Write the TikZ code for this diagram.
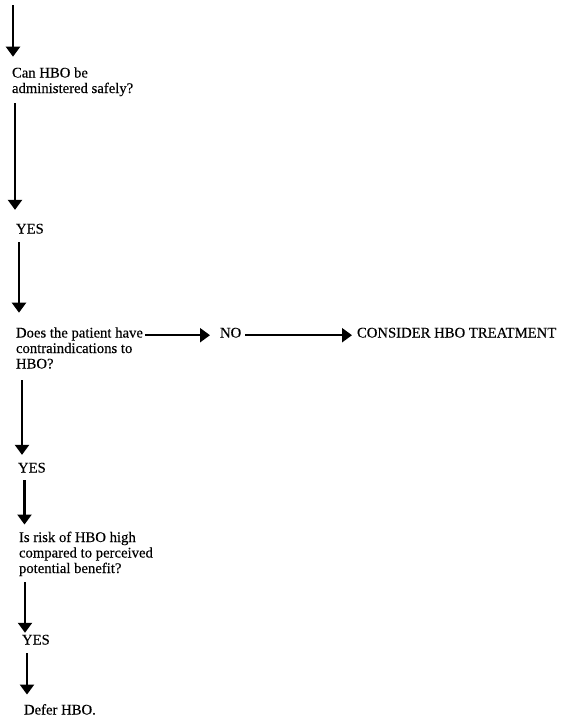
\documentclass[tikz,border=0pt]{standalone}
\usepackage{fontspec}
\setmainfont{Liberation Serif}[FakeBold=0.3]
\usetikzlibrary{arrows.meta}
\begin{document}
\begin{tikzpicture}[x=1pt,y=-1pt,
    txt/.style={anchor=base west, inner sep=0pt, outer sep=0pt, align=left, font=\fontsize{14.7}{15.5}\selectfont},
    flow/.style={line width=2.2pt, -{Triangle[length=10pt,width=14pt]}}]
  \useasboundingbox (0,0) rectangle (572,718);
  \coordinate (top) at (13,5);
  \node[txt] (can) at (12,93){Can HBO be\\administered safely?};
  \draw[flow](top) -- ([xshift=1pt,yshift=10.6pt]can.north west);
  \node[txt] (yes1) at (16,233.5){YES};
  \draw[flow]([xshift=3pt,yshift=-6.9pt]can.south west) -- ([xshift=-1pt,yshift=13.9pt]yes1.north west);
  \node[txt] (contra) at (16,368.5){Does the patient have\\contraindications to\\HBO?};
  \draw[flow]([xshift=3pt,yshift=-8.5pt]yes1.south west) -- ([xshift=3pt,yshift=14.6pt]contra.north west);
  \node[txt] (no) at (220,337.5){NO};
  \node[txt] (consider) at (357,337.5){CONSIDER HBO TREATMENT};
  \draw[flow, shorten <=2pt, shorten >=10pt](contra.east |- no.mid) -- (no.mid west);
  \draw[flow, shorten <=4pt, shorten >=5pt](no.mid east) -- (consider.mid west);
  \node[txt] (yes2) at (18,472.5){YES};
  \draw[flow]([xshift=6pt,yshift=-11.5pt]contra.south west) -- ([xshift=4pt,yshift=7.9pt]yes2.north west);
  \node[txt] (risk) at (19,573){Is risk of HBO high\\compared to perceived\\potential benefit?};
  \draw[flow]([xshift=6.5pt,yshift=-7.5pt]yes2.south west) -- ([xshift=5.5pt,yshift=7.1pt]risk.north west);
  \node[txt] (yes3) at (22,644.5){YES};
  \draw[flow]([xshift=6pt,yshift=-5.9pt]risk.south west) -- ([xshift=3pt,yshift=2pt]yes3.north west);
  \node[txt] (defer) at (24,714.5){Defer HBO.};
  \draw[flow]([xshift=5pt,yshift=-8.5pt]yes3.south west) -- ([xshift=3pt,yshift=9.6pt]defer.north west);
\end{tikzpicture}
\end{document}
